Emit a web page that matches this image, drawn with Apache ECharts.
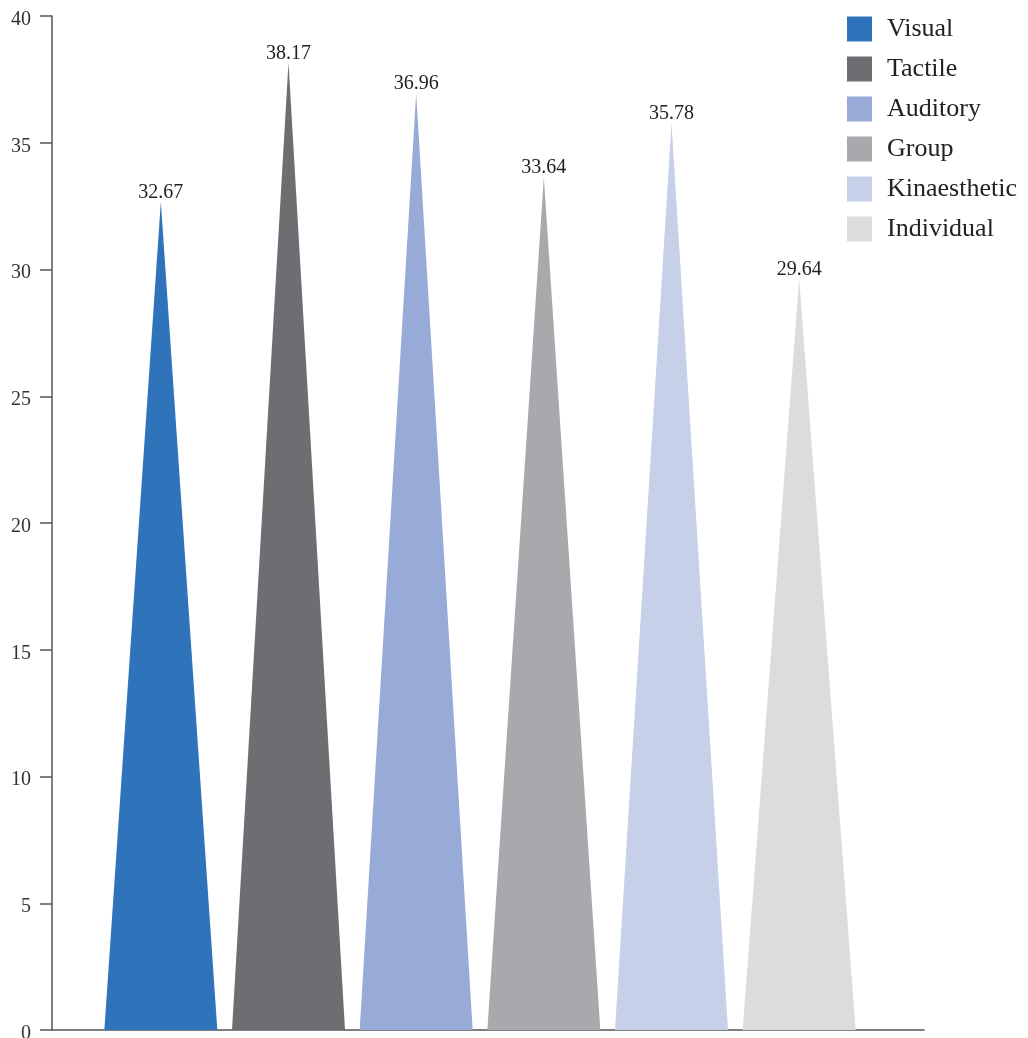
<!DOCTYPE html>
<html><head><meta charset="utf-8">
<script src="https://cdn.jsdelivr.net/npm/echarts@6/dist/echarts.min.js"></script>
<style>html,body{margin:0;padding:0;background:#fff}#c{width:1028px;height:1038px}</style>
</head><body><div id="c"></div>
<script>
const categories = ['Visual','Tactile','Auditory','Group','Kinaesthetic','Individual'];
const values = [32.67, 38.17, 36.96, 33.64, 35.78, 29.64];
const colors = ['#2F73BA','#6D6E71','#98AAD8','#A8A9AC','#C7D0E9','#DCDCDD'];
const yTicks = {min:0, max:40, interval:5};

const font = '"Liberation Serif", "Times New Roman", serif';
const chart = echarts.init(document.getElementById('c'));
const series = categories.map((name, i) => ({
  name: name,
  type: 'pictorialBar',
  xAxisIndex: 1, yAxisIndex: 1,
  symbol: 'triangle',
  barWidth: 113,
  barGap: '-100%',
  itemStyle: {color: colors[i]},
  label: {show: true, position: 'top', distance: -1, fontFamily: font, fontSize: 20, color: '#222',
          formatter: p => values[i].toFixed(2)},
  data: categories.map((c, j) => j === i ? values[i] : '-')
}));
chart.setOption({
  animation: false,
  color: colors,
  legend: {
    orient: 'vertical', left: 842, top: 11,
    itemWidth: 25, itemHeight: 25, itemGap: 14,
    icon: 'rect',
    textStyle: {fontFamily: font, fontSize: 26, color: '#222', padding: [0,0,0,10]},
    data: categories
  },
  grid: [
    {left: 52, right: 104, top: 16, bottom: 8, containLabel: false, outerBoundsMode: 'none'},
    {left: 97, right: 165, top: 16, bottom: 8, containLabel: false, outerBoundsMode: 'none'}
  ],
  xAxis: [
    {gridIndex: 0, type: 'category', data: [''], axisTick: {show: false}, axisLabel: {show: false},
     axisLine: {lineStyle: {color: '#555', width: 1.5}}},
    {gridIndex: 1, type: 'category', data: categories, show: false}
  ],
  yAxis: [
    {gridIndex: 0, type: 'value', min: yTicks.min, max: yTicks.max, interval: yTicks.interval,
     splitLine: {show: false},
     axisLine: {show: true, lineStyle: {color: '#555', width: 1.5}},
     axisTick: {show: true, length: 12, lineStyle: {color: '#555', width: 1.5}},
     axisLabel: {margin: 21, formatter: '{a|{value}}',
       rich: {a: {fontFamily: font, fontSize: 20, color: '#333', padding: [7,0,0,0]}}}},
    {gridIndex: 1, type: 'value', min: yTicks.min, max: yTicks.max, interval: yTicks.interval, show: false}
  ],
  series: series
});
</script></body></html>
